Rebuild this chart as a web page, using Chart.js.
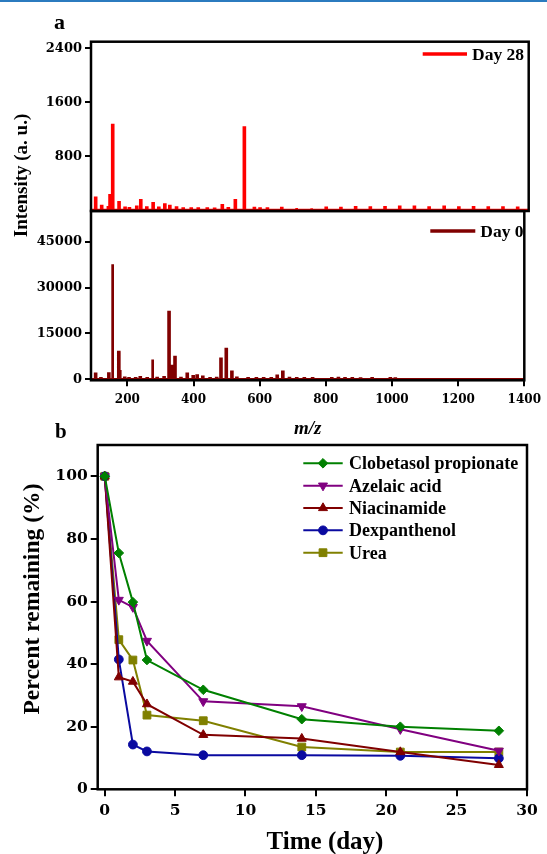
<!DOCTYPE html>
<html>
<head>
<meta charset="utf-8">
<script src="https://cdn.jsdelivr.net/npm/chart.js@4.4.1/dist/chart.umd.min.js"></script>
<style>
  html, body { margin: 0; padding: 0; background: #fff; }
  #wrap { position: relative; width: 547px; height: 854px; overflow: hidden; }
  #wrap canvas { position: absolute; left: 0; top: 0; }
  #topline { position: absolute; left: 0; top: 0; width: 547px; height: 2px; background: #2b7bbf; }
</style>
</head>
<body>
<div id="wrap">
  <canvas id="spec28" width="547" height="854"></canvas>
  <canvas id="spec0" width="547" height="854"></canvas>
  <canvas id="decay" width="547" height="854"></canvas>
  <div id="topline"></div>
</div>
<script>
// ---- panel a : mass spectra ----
const mzRange = [90, 1400];
const day28Mz  = [104, 122, 142, 147, 155, 174, 192, 205, 227, 239, 257, 276, 293, 311, 326, 346, 366, 390, 411, 438, 460, 483, 501, 522, 549, 579, 596, 618, 661, 705, 750, 794, 838, 882, 926, 970, 1014, 1058, 1102, 1147, 1191, 1235, 1279, 1323, 1367];
const day28Int = [180, 56, 40, 219, 1261, 115, 30, 25, 45, 145, 35, 100, 30, 80, 56, 35, 22, 20, 22, 20, 18, 69, 25, 143, 1225, 28, 22, 20, 28, 30, 25, 30, 28, 40, 35, 40, 45, 45, 35, 45, 35, 40, 35, 35, 30];
const day0Mz   = [104, 120, 144, 155, 174, 177, 192, 205, 225, 239, 260, 276, 290, 311, 326, 333, 344, 362, 381, 399, 411, 428, 450, 470, 483, 499, 516, 531, 548, 565, 590, 612, 635, 653, 670, 690, 712, 735, 760, 790, 818, 838, 858, 880, 905, 940, 995, 1010];
const day0Int  = [1780, 300, 1910, 37600, 8900, 2600, 470, 300, 350, 700, 300, 6500, 400, 700, 22000, 4300, 7250, 450, 1780, 1030, 1250, 800, 350, 450, 6700, 9870, 2430, 500, 350, 300, 350, 300, 300, 1130, 2430, 400, 350, 300, 350, 300, 350, 450, 300, 300, 250, 300, 300, 250];
const mzTicks    = [200, 400, 600, 800, 1000, 1200, 1400];
const day28Ticks = [800, 1600, 2400];
const day0Ticks  = [0, 15000, 30000, 45000];

// ---- panel b : percent remaining ----
const days         = [0, 1, 2, 3, 7, 14, 21, 28];
const clobetasol   = [100, 75.5, 59.8, 41.3, 31.8, 22.4, 20.0, 18.7];
const azelaic      = [100, 60.5, 58.2, 47.4, 28.1, 26.5, 19.2, 12.3];
const niacinamide  = [100, 35.8, 34.4, 27.2, 17.4, 16.2, 11.9, 7.8];
const dexpanthenol = [100, 41.5, 14.3, 12.1, 10.9, 10.9, 10.7, 9.9];
const urea         = [100, 47.8, 41.3, 23.7, 21.9, 13.5, 11.9, 11.9];
const dayTicks = [0, 5, 10, 15, 20, 25, 30];
const pctTicks = [0, 20, 40, 60, 80, 100];

const SERIF = "'Liberation Serif', 'Times New Roman', serif";
const NUM = "'DejaVu Serif', serif";

// stick spectrum from peak lists
function sticks(mz, inten) {
  const pts = [{x: mzRange[0], y: 0}];
  mz.forEach((m, i) => {
    pts.push({x: m - 1.4, y: 0}, {x: m - 1.4, y: inten[i]}, {x: m + 1.4, y: inten[i]}, {x: m + 1.4, y: 0});
  });
  pts.push({x: mzRange[1], y: 0});
  return pts;
}

// black box round the plot area
const frame = {
  id: 'frame',
  afterDraw(chart) {
    const a = chart.chartArea, ctx = chart.ctx;
    ctx.save();
    ctx.strokeStyle = '#000';
    ctx.lineWidth = 2.5;
    ctx.strokeRect(a.left, a.top, a.right - a.left, a.bottom - a.top);
    ctx.restore();
  }
};

// free text (panel letters, shared titles)
const notes = {
  id: 'notes',
  afterDraw(chart, args, o) {
    const ctx = chart.ctx;
    (o.items || []).forEach(t => {
      ctx.save();
      ctx.translate(t.x, t.y);
      ctx.rotate(t.rot || 0);
      ctx.font = t.font;
      ctx.fillStyle = '#000';
      ctx.textAlign = t.align || 'center';
      ctx.textBaseline = t.base || 'alphabetic';
      ctx.fillText(t.text, 0, 0);
      ctx.restore();
    });
  }
};

// legend inside the plot: line sample (+ marker) and label
const lineKey = {
  id: 'lineKey',
  afterDraw(chart, args, o) {
    if (o.x === undefined) return;
    const ctx = chart.ctx;
    chart.data.datasets.forEach((ds, i) => {
      const y = o.y + i * (o.row || 0);
      ctx.save();
      ctx.strokeStyle = ds.borderColor;
      ctx.lineWidth = o.lineWidth || ds.borderWidth;
      ctx.beginPath();
      ctx.moveTo(o.x, y);
      ctx.lineTo(o.x + o.len, y);
      ctx.stroke();
      if (ds.pointRadius) {
        ctx.fillStyle = ds.borderColor;
        ctx.lineWidth = 1;
        Chart.helpers.drawPoint(ctx, {
          pointStyle: ds.pointStyle, rotation: ds.pointRotation || 0,
          radius: ds.pointRadius, borderWidth: 1
        }, o.x + o.len / 2, y);
      }
      ctx.fillStyle = '#000';
      ctx.font = o.font;
      ctx.textAlign = 'left';
      ctx.textBaseline = 'alphabetic';
      ctx.fillText(ds.label, o.x + o.len + o.gap, y + o.shift);
      ctx.restore();
    });
  }
};

function tickList(arr) {
  return s => { s.ticks = arr.map(v => ({value: v})); };
}

const tickGrid = len => ({ display: true, drawOnChartArea: false, drawTicks: true, tickLength: len, color: '#000', lineWidth: 2 });

// ---- Day 28 spectrum ----
new Chart(document.getElementById('spec28'), {
  type: 'line',
  data: { datasets: [{ label: 'Day 28', data: sticks(day28Mz, day28Int), borderColor: '#ff0000', borderWidth: 2.7, pointRadius: 0, tension: 0 }] },
  options: {
    responsive: false, animation: false, events: [],
    layout: { padding: { top: 41.7, right: 18.3, bottom: 643, left: 0 } },
    scales: {
      x: { type: 'linear', display: false, min: mzRange[0], max: mzRange[1] },
      y: {
        min: -15, max: 2500,
        afterFit: s => { s.width = 91; },
        afterBuildTicks: tickList(day28Ticks),
        border: { display: false },
        grid: tickGrid(6),
        ticks: { color: '#000', padding: 3, font: { family: NUM, weight: 'bold', size: 13 }, callback: v => String(v) }
      }
    },
    plugins: {
      legend: { display: false }, tooltip: { enabled: false },
      notes: { items: [
        { text: 'a', x: 54, y: 28.5, align: 'left', font: 'bold 22px ' + SERIF },
        { text: 'Intensity (a. u.)', x: 22, y: 175.5, rot: -Math.PI / 2, base: 'middle', font: 'bold 19px ' + SERIF }
      ] },
      lineKey: { x: 422.7, y: 54, len: 44.3, gap: 5, lineWidth: 3.3, shift: 6, font: 'bold 17.5px ' + SERIF }
    }
  },
  plugins: [frame, notes, lineKey]
});

// ---- Day 0 spectrum ----
new Chart(document.getElementById('spec0'), {
  type: 'line',
  data: { datasets: [{ label: 'Day 0', data: sticks(day0Mz, day0Int), borderColor: '#800000', borderWidth: 2.7, pointRadius: 0, tension: 0 }] },
  options: {
    responsive: false, animation: false, events: [],
    layout: { padding: { top: 211, right: 18.3, bottom: 409, left: 0 } },
    scales: {
      x: {
        type: 'linear', min: mzRange[0], max: mzRange[1],
        afterFit: s => { s.height = 64.7; },
        afterBuildTicks: tickList(mzTicks),
        border: { display: false },
        grid: tickGrid(6),
        ticks: { color: '#000', padding: 6, autoSkip: false, maxRotation: 0, font: { family: NUM, weight: 'bold', size: 12 }, callback: v => String(v) },
        title: { display: true, text: 'm/z', color: '#000', padding: { top: 0, bottom: 4.2 }, font: { family: SERIF, weight: 'bold', style: 'italic', size: 19 } }
      },
      y: {
        min: -300, max: 55000,
        afterFit: s => { s.width = 91; },
        afterBuildTicks: tickList(day0Ticks),
        border: { display: false },
        grid: tickGrid(6),
        ticks: { color: '#000', padding: 3, font: { family: NUM, weight: 'bold', size: 13 }, callback: v => String(v) }
      }
    },
    plugins: {
      legend: { display: false }, tooltip: { enabled: false },
      lineKey: { x: 430.3, y: 231, len: 45, gap: 5, lineWidth: 3.3, shift: 6, font: 'bold 17.5px ' + SERIF }
    }
  },
  plugins: [frame, lineKey]
});

// ---- panel b ----
const pts = vals => days.map((d, i) => ({x: d, y: vals[i]}));
const seriesStyle = (label, vals, color, shape, r, rot) => ({
  label, data: pts(vals), borderColor: color, backgroundColor: color,
  borderWidth: 2, pointStyle: shape, pointRadius: r, pointRotation: rot || 0,
  pointBorderWidth: 1, pointBackgroundColor: color, pointBorderColor: color, tension: 0
});

new Chart(document.getElementById('decay'), {
  type: 'line',
  data: { datasets: [
    seriesStyle('Clobetasol propionate', clobetasol, '#008000', 'rectRot', 4.8),
    seriesStyle('Azelaic acid', azelaic, '#800080', 'triangle', 5.2, 180),
    seriesStyle('Niacinamide', niacinamide, '#800000', 'triangle', 5.2),
    seriesStyle('Dexpanthenol', dexpanthenol, '#0a0aa0', 'circle', 4.4),
    seriesStyle('Urea', urea, '#808000', 'rect', 5.5)
  ] },
  options: {
    responsive: false, animation: false, events: [],
    layout: { padding: { top: 445, right: 20, bottom: 0, left: 0 } },
    scales: {
      x: {
        type: 'linear', min: -0.5, max: 30,
        afterFit: s => { s.height = 64.7; },
        afterBuildTicks: tickList(dayTicks),
        border: { display: false },
        grid: tickGrid(7),
        ticks: { color: '#000', padding: 5.5, autoSkip: false, maxRotation: 0, font: { family: NUM, weight: 'bold', size: 15.5 }, callback: v => String(v) }
      },
      y: {
        min: 0, max: 110,
        afterFit: s => { s.width = 97.7; },
        afterBuildTicks: tickList(pctTicks),
        border: { display: false },
        grid: tickGrid(7),
        ticks: { color: '#000', padding: 3, font: { family: NUM, weight: 'bold', size: 15.5 }, callback: v => String(v) }
      }
    },
    plugins: {
      legend: { display: false }, tooltip: { enabled: false },
      notes: { items: [
        { text: 'b', x: 55, y: 438.3, align: 'left', font: 'bold 21px ' + SERIF },
        { text: 'Percent remaining (%)', x: 33, y: 599, rot: -Math.PI / 2, base: 'middle', font: 'bold 23.6px ' + SERIF },
        { text: 'Time (day)', x: 325, y: 849.3, font: 'bold 25px ' + SERIF }
      ] },
      lineKey: { x: 303.3, y: 463.3, row: 22.35, len: 39.4, gap: 6.3, shift: 6, font: 'bold 18px ' + SERIF }
    }
  },
  plugins: [frame, notes, lineKey]
});
</script>
</body>
</html>
